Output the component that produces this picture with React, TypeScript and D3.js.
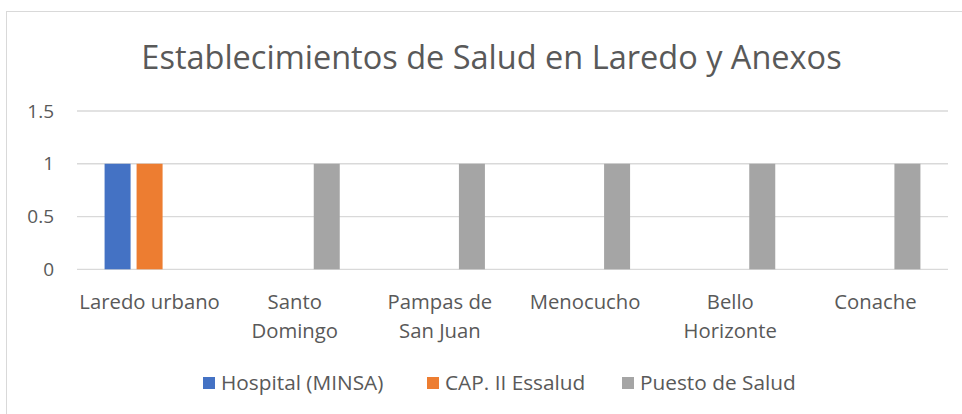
import React from "react";
import * as d3 from "d3";

const title = "Establecimientos de Salud en Laredo y Anexos";
const categories: string[][] = [
  ["Laredo urbano"],
  ["Santo", "Domingo"],
  ["Pampas de", "San Juan"],
  ["Menocucho"],
  ["Bello", "Horizonte"],
  ["Conache"],
];
const seriesNames = ["Hospital (MINSA)", "CAP. II Essalud", "Puesto de Salud"];
const seriesColors = ["#4472C4", "#ED7D31", "#A5A5A5"];
const hospital = [1, 0, 0, 0, 0, 0];
const capEssalud = [1, 0, 0, 0, 0, 0];
const puesto = [0, 1, 1, 1, 1, 1];
const yTicks = [0, 0.5, 1, 1.5];

const W = 962;
const H = 414;
const FONT = "'Open Sans', sans-serif";
const TXT = "#595959";

export default function App() {
  const values = [hospital, capEssalud, puesto];
  const catKeys = categories.map((c) => c.join(" "));
  const x0 = d3.scaleBand<string>().domain(catKeys).range([77, 948]).padding(0);
  const x1 = d3
    .scaleBand<string>()
    .domain(seriesNames)
    .range([-48, 48])
    .paddingInner(0.1875)
    .paddingOuter(0.09375);
  const y = d3.scaleLinear().domain([0, 1.5]).range([269.3, 111]);

  const legendX = [203, 427, 622];

  return (
    <svg
      width={W}
      height={H}
      style={{ position: "absolute", left: 0, top: 0, background: "#fff" }}
      fontFamily={FONT}
    >
      <rect x={0} y={0} width={W} height={H} fill="#fff" />
      <rect x={6.5} y={11.5} width={1000} height={500} fill="#fff" stroke="#d9d9d9" />
      <text x={491.5} y={68.5} textAnchor="middle" fontSize={32.5} fill={TXT}>
        {title}
      </text>
      {yTicks.map((t) => (
        <g key={t}>
          <line x1={77} x2={948} y1={y(t)} y2={y(t)} stroke="#d9d9d9" strokeWidth={1.3} />
          <text x={54} y={y(t) + 6.5} textAnchor="end" fontSize={19} fill={TXT}>
            {t}
          </text>
        </g>
      ))}
      {catKeys.map((c, ci) => {
        const cx = (x0(c) as number) + x0.bandwidth() / 2;
        return (
          <g key={c}>
            {seriesNames.map((s, si) => {
              const v = values[si][ci];
              if (!v) return null;
              return (
                <rect
                  key={s}
                  x={cx + (x1(s) as number)}
                  width={x1.bandwidth()}
                  y={y(v)}
                  height={y(0) - y(v)}
                  fill={seriesColors[si]}
                />
              );
            })}
            {categories[ci].map((line, li) => (
              <text
                key={li}
                x={cx}
                y={309 + li * 28.5}
                textAnchor="middle"
                fontSize={20.3}
                fill={TXT}
              >
                {line}
              </text>
            ))}
          </g>
        );
      })}
      {seriesNames.map((s, i) => (
        <g key={s}>
          <rect x={legendX[i]} y={377} width={12} height={12} fill={seriesColors[i]} />
          <text x={legendX[i] + 18} y={390} fontSize={20.8} fill={TXT}>
            {s}
          </text>
        </g>
      ))}
    </svg>
  );
}
